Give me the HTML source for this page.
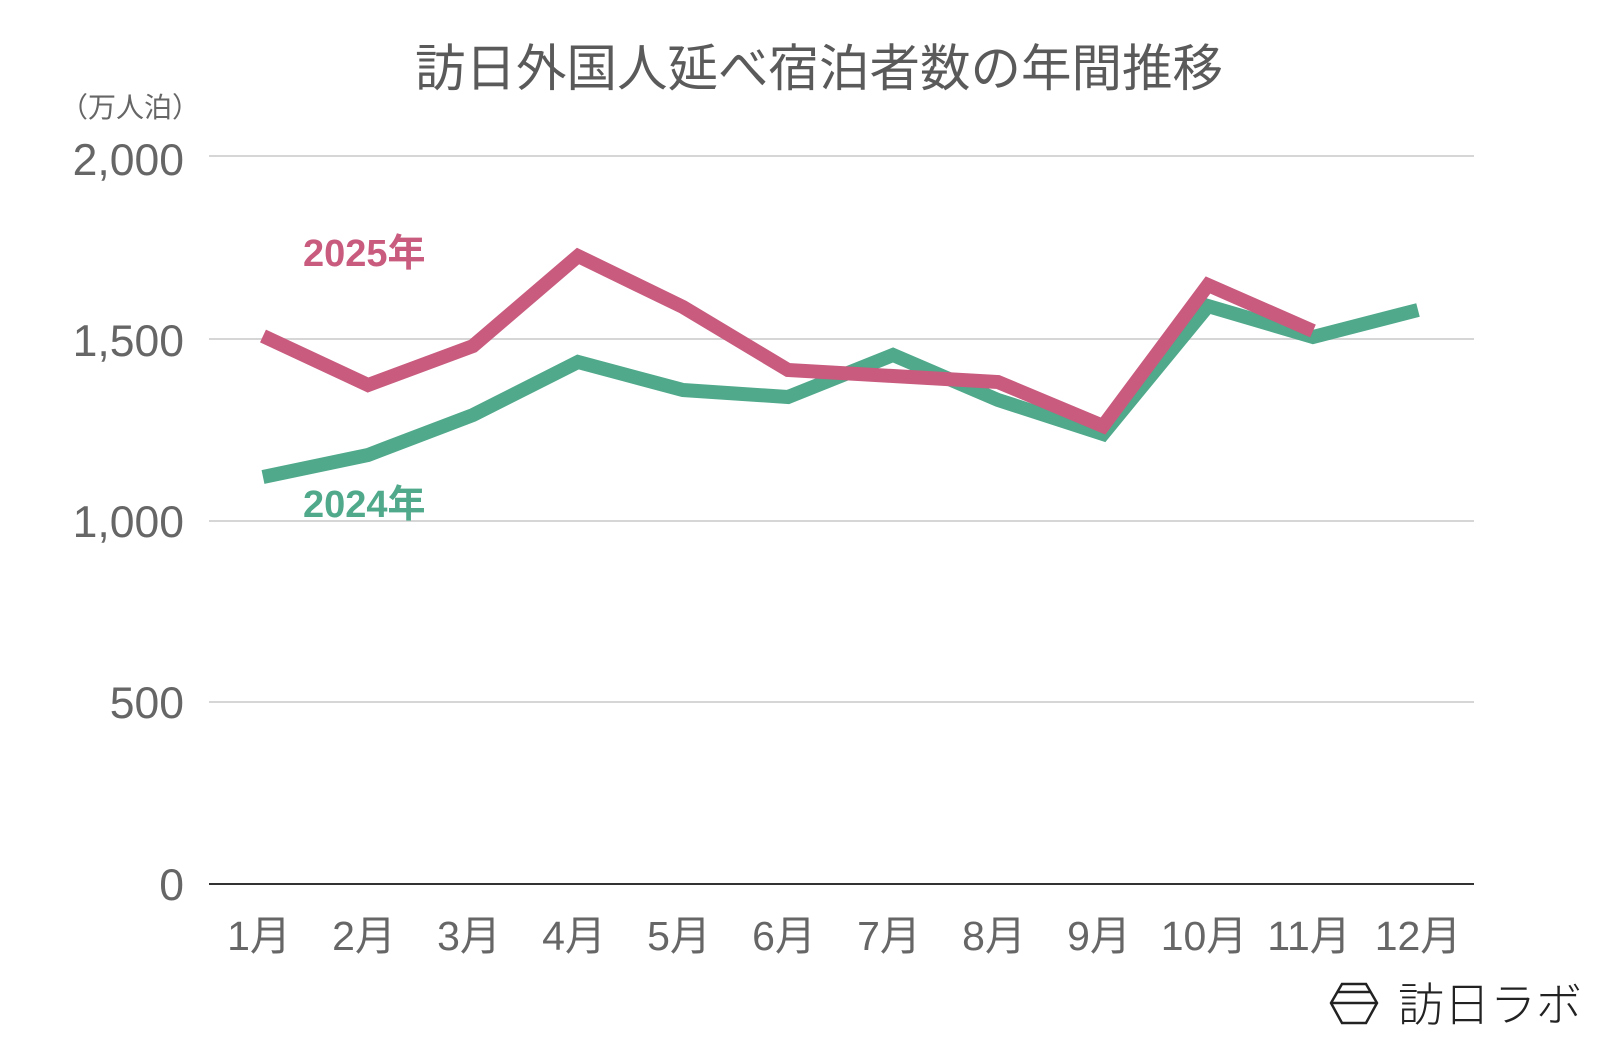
<!DOCTYPE html>
<html><head><meta charset="utf-8"><style>
html,body{margin:0;padding:0;background:#fff;}
svg{display:block;}
text{font-family:"Liberation Sans","Noto Sans CJK JP",sans-serif;}
</style></head><body>
<svg width="1600" height="1040" viewBox="0 0 1600 1040" xmlns="http://www.w3.org/2000/svg">
<text x="819" y="86" text-anchor="middle" font-size="50.5" fill="#5a5a5a">訪日外国人延べ宿泊者数の年間推移</text>
<text x="60" y="117" font-size="28" fill="#666">（万人泊）</text>
<g stroke="#d6d6d6" stroke-width="2">
<line x1="209" y1="156" x2="1474" y2="156"/>
<line x1="209" y1="339" x2="1474" y2="339"/>
<line x1="209" y1="521" x2="1474" y2="521"/>
<line x1="209" y1="702" x2="1474" y2="702"/>
</g>
<line x1="209" y1="884" x2="1474" y2="884" stroke="#333" stroke-width="2"/>
<g font-size="44.5" fill="#666" text-anchor="end">
<text x="184" y="175">2,000</text>
<text x="184" y="356">1,500</text>
<text x="184" y="537">1,000</text>
<text x="184" y="718">500</text>
<text x="184" y="900">0</text>
</g>
<g font-size="41" fill="#666" text-anchor="middle">
<text x="259" y="950">1月</text><text x="364" y="950">2月</text><text x="469" y="950">3月</text>
<text x="574" y="950">4月</text><text x="679" y="950">5月</text><text x="784" y="950">6月</text>
<text x="889" y="950">7月</text><text x="994" y="950">8月</text><text x="1099" y="950">9月</text>
<text x="1204" y="950">10月</text><text x="1309" y="950">11月</text><text x="1418" y="950">12月</text>
</g>
<polyline fill="none" stroke="#4fa98a" stroke-width="14" stroke-linejoin="miter"
 points="263,477 368,455 473,415 578,362 683,390 788,397 893,355 998,400 1103,434 1208,306 1313,337 1418,310"/>
<polyline fill="none" stroke="#c85b7e" stroke-width="14" stroke-linejoin="miter"
 points="263,336 368,385 473,346 578,256 683,307 788,370 893,376 998,382 1103,426 1208,285 1313,331"/>
<text x="303" y="266" font-size="38" font-weight="bold" fill="#c85b7e">2025年</text>
<text x="303" y="517" font-size="38" font-weight="bold" fill="#4fa98a">2024年</text>
<g fill="none" stroke="#222" stroke-width="2.5">
<polygon points="1342,984 1366,984 1377,1003 1366,1023 1342,1023 1331,1003"/>
<line x1="1332" y1="1003" x2="1376" y2="1003"/>
<line x1="1337" y1="992" x2="1371" y2="992"/>
</g>
<text x="1398" y="1021" font-size="46" fill="#222" font-weight="300">訪日ラボ</text>
</svg>
</body></html>
